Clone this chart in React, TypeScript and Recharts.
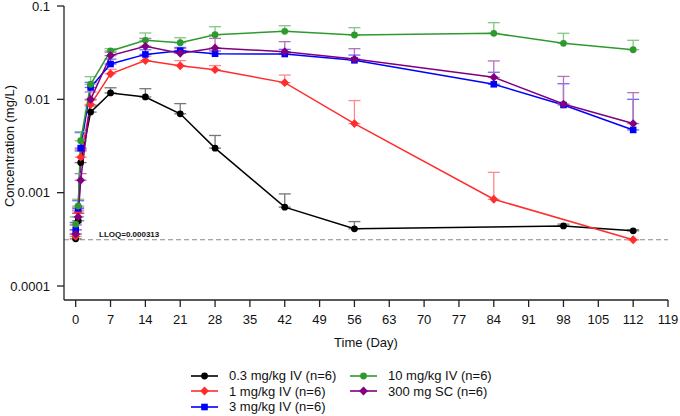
import React from "react";
import { LineChart, Line, XAxis, YAxis, ErrorBar, ReferenceLine } from "recharts";

// sampling days (nominal)
const DAYS = [0, 0.5, 1, 3, 7, 14, 21, 28, 42, 56, 84, 98, 112];
const X_TICKS = [0, 7, 14, 21, 28, 35, 42, 49, 56, 63, 70, 77, 84, 91, 98, 105, 112, 119];
const Y_TICKS = [0.0001, 0.001, 0.01, 0.1];
const LLOQ = 0.000313;

// mean and mean+SD, mg/L (null = not sampled)
const MEAN_03 = [0.00032, 0.0005, 0.0021, 0.0073, 0.0117, 0.0106, 0.007, 0.003, 0.0007, 0.00041, null, 0.00044, 0.00039];
const UPPER_03 = [0.00036, 0.0006, 0.0028, 0.0085, 0.0133, 0.013, 0.009, 0.0041, 0.00097, 0.00049, null, 0.00046, 0.0004];

const MEAN_1 = [0.00034, 0.00062, 0.0024, 0.0088, 0.0188, 0.026, 0.0229, 0.0208, 0.0151, 0.0055, 0.00085, null, 0.000313];
const UPPER_1 = [0.0004, 0.0007, 0.0029, 0.0098, 0.021, 0.029, 0.026, 0.023, 0.0182, 0.0097, 0.00165, null, 0.000313];

const MEAN_3 = [0.0004, 0.00068, 0.003, 0.0134, 0.0239, 0.0303, 0.0332, 0.0308, 0.0306, 0.0262, 0.0145, 0.0087, 0.0047];
const UPPER_3 = [0.00048, 0.00082, 0.0044, 0.0152, 0.027, 0.034, 0.036, 0.033, 0.0343, 0.0298, 0.0195, 0.0147, 0.01];

const MEAN_10 = [0.00046, 0.00072, 0.0036, 0.0145, 0.033, 0.0429, 0.0404, 0.0493, 0.0535, 0.0489, 0.051, 0.0398, 0.034];
const UPPER_10 = [0.00055, 0.00085, 0.0045, 0.0175, 0.0349, 0.0514, 0.0457, 0.06, 0.0615, 0.0586, 0.0663, 0.051, 0.0429];

const MEAN_SC = [0.00036, 0.00055, 0.00136, 0.01, 0.0294, 0.037, 0.0311, 0.0355, 0.0324, 0.027, 0.0172, 0.0089, 0.0055];
const UPPER_SC = [0.00045, 0.00065, 0.0016, 0.012, 0.032, 0.045, 0.035, 0.045, 0.0415, 0.0349, 0.0258, 0.0176, 0.0118];

type Shape = "circle" | "diamond" | "square";

const build = (mean: (number | null)[], upper: (number | null)[]) =>
  DAYS.map((day, i) => ({ day, value: mean[i], upper: upper[i] })).filter((d) => d.value != null) as {
    day: number;
    value: number;
    upper: number;
  }[];

const SERIES = [
  { name: "0.3 mg/kg IV (n=6)", color: "#000000", err: "#777777", shape: "circle" as Shape, data: build(MEAN_03, UPPER_03) },
  { name: "1 mg/kg IV (n=6)", color: "#ff2d2d", err: "#ff8a8a", shape: "diamond" as Shape, data: build(MEAN_1, UPPER_1) },
  { name: "3 mg/kg IV (n=6)", color: "#0000ff", err: "#6a6aff", shape: "square" as Shape, data: build(MEAN_3, UPPER_3) },
  { name: "10 mg/kg IV (n=6)", color: "#2e9a2e", err: "#85c585", shape: "circle" as Shape, data: build(MEAN_10, UPPER_10) },
  { name: "300 mg SC (n=6)", color: "#800080", err: "#b574b5", shape: "diamond" as Shape, data: build(MEAN_SC, UPPER_SC) },
];

const FONT = "'Liberation Sans', Arial, Helvetica, sans-serif";

function Marker({ cx, cy, shape, color }: { cx: number; cy: number; shape: Shape; color: string }) {
  if (cx == null || cy == null) return null;
  if (shape === "square") return <rect x={cx - 3.3} y={cy - 3.3} width={6.6} height={6.6} fill={color} />;
  if (shape === "diamond") {
    const r = 4.4;
    return <polygon points={`${cx},${cy - r} ${cx + r},${cy} ${cx},${cy + r} ${cx - r},${cy}`} fill={color} />;
  }
  return <circle cx={cx} cy={cy} r={3.4} fill={color} />;
}

function LloqLabel(props: any) {
  const vb = props.viewBox || {};
  return (
    <text x={vb.x + 35} y={vb.y - 3} fontSize={8} fontWeight="bold" fill="#111">
      LLOQ=0.000313
    </text>
  );
}

function YLabel(props: any) {
  const vb = props.viewBox || {};
  const x = vb.x + 9;
  const y = vb.y + vb.height / 2 - 7;
  return (
    <text x={x} y={y} transform={`rotate(-90, ${x}, ${y})`} textAnchor="middle" dominantBaseline="central" fontSize={13} fill="#111">
      Concentration (mg/L)
    </text>
  );
}

function LegendBox() {
  return (
    <div
      style={{
        position: "absolute",
        left: 191,
        top: 368,
        display: "grid",
        gridTemplateColumns: "159px auto",
        gridAutoFlow: "column",
        gridTemplateRows: "repeat(3, 15.5px)",
        fontSize: 13,
        color: "#111",
      }}
    >
      {SERIES.map((s) => (
        <div key={s.name} style={{ display: "flex", alignItems: "center", height: 15.5, whiteSpace: "nowrap" }}>
          <svg width={27} height={10} style={{ marginRight: 11 }}>
            <line x1={0} y1={5} x2={27} y2={5} stroke={s.color} strokeWidth={1.6} />
            <Marker cx={13.5} cy={5} shape={s.shape} color={s.color} />
          </svg>
          {s.name}
        </div>
      ))}
    </div>
  );
}

export default function App() {
  return (
    <div style={{ position: "absolute", left: 0, top: 0, width: 680, height: 416, fontFamily: FONT, background: "#fff" }}>
      <LineChart width={680} height={416} margin={{ top: 6, right: 12, bottom: 66, left: 0 }}>
        <XAxis
          type="number"
          dataKey="day"
          domain={[-2.35, 119]}
          ticks={X_TICKS}
          interval={0}
          allowDataOverflow
          height={50}
          tickSize={7}
          tickMargin={8}
          stroke="#222"
          strokeWidth={1.3}
          tick={{ fill: "#111", fontSize: 13 }}
          label={{ value: "Time (Day)", position: "insideBottom", offset: 3, fill: "#111", fontSize: 13 }}
        />
        <YAxis
          type="number"
          scale="log"
          domain={[7.08e-5, 0.1]}
          ticks={Y_TICKS}
          interval={0}
          allowDataOverflow
          width={64}
          tickSize={7}
          tickMargin={7}
          stroke="#222"
          strokeWidth={1.3}
          tick={{ fill: "#111", fontSize: 13 }}
          tickFormatter={(v: number) => String(v)}
          label={<YLabel />}
        />
        <ReferenceLine y={LLOQ} stroke="#8a8a8a" strokeDasharray="5 3" strokeWidth={1.2} label={<LloqLabel />} />
        {SERIES.map((s) => (
          <Line
            key={s.name}
            data={s.data}
            dataKey="value"
            name={s.name}
            type="linear"
            stroke={s.color}
            strokeWidth={1.5}
            isAnimationActive={false}
            activeDot={false}
            dot={(p: any) => <Marker key={`${s.name}-${p.index}`} cx={p.cx} cy={p.cy} shape={s.shape} color={s.color} />}
          >
            <ErrorBar
              dataKey={(d: any) => [0, Math.max(0, d.upper - d.value)]}
              direction="y"
              width={6}
              stroke={s.err}
              strokeWidth={1.3}
              isAnimationActive={false}
            />
          </Line>
        ))}
      </LineChart>
      <LegendBox />
    </div>
  );
}
